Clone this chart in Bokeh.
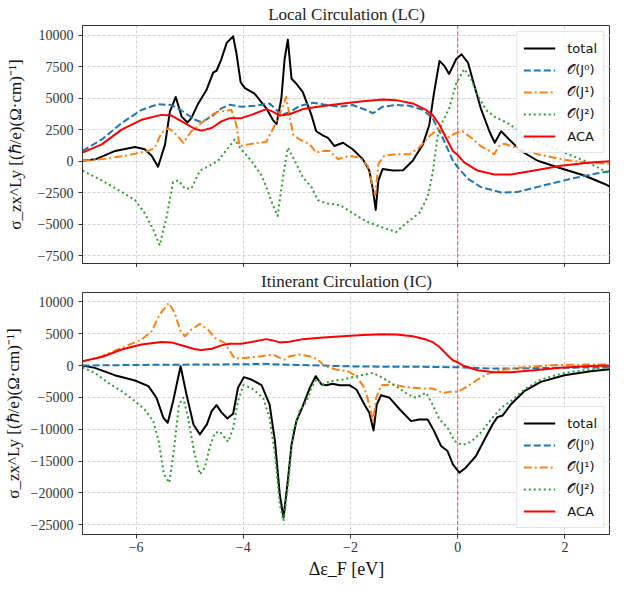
from bokeh.plotting import figure
from bokeh.models import Span, Legend, LegendItem, FixedTicker, Range1d
from bokeh.layouts import column
from bokeh.embed import file_html
from bokeh.resources import INLINE

# ---------------- data: Local Circulation (LC) ----------------
lc_total_x = [-7.0, -6.75, -6.39, -6.02, -5.84, -5.71, -5.59, -5.46, -5.37, -5.26, -5.15, -5.04, -4.97, -4.84,
              -4.69, -4.56, -4.50, -4.41, -4.31, -4.19, -4.13, -4.05, -3.97, -3.79, -3.57, -3.45, -3.38,
              -3.29, -3.23, -3.17, -3.10, -3.01, -2.89, -2.73, -2.64, -2.51, -2.42, -2.30, -2.14, -1.96,
              -1.77, -1.65, -1.58, -1.53, -1.48, -1.40, -1.21, -1.02, -0.84, -0.65, -0.53, -0.44, -0.34,
              -0.25, -0.16, -0.03, 0.07, 0.19, 0.31, 0.43, 0.59, 0.69, 0.81, 0.96, 1.18, 1.49, 1.86,
              2.36, 2.73, 2.97]
lc_total_y = [50, 180, 830, 1140, 960, 440, -420, 1350, 3950, 5110, 3550, 3090, 3430, 4600,
              5640, 7060, 7190, 8100, 9400, 9920, 8620, 6280, 5810, 5380, 4210, 3300, 2960,
              4990, 8100, 9660, 6550, 6160, 5500, 3690, 2390, 2050, 1870, 1220, 1480, 960,
              180, -730, -2290, -3850, -1510, -600, -730, -700, 50, 1350, 2910, 5500, 7970,
              7580, 6940, 8100, 8500, 7840, 6020, 4210, 2390, 1480, 2390, 1740, 830, 50, -470,
              -1120, -1770, -2290]

lc_j0_x = [-7.0, -6.64, -6.27, -5.90, -5.59, -5.34, -5.15, -4.90, -4.78, -4.59, -4.41, -4.25, -4.04,
           -3.79, -3.51, -3.38, -3.29, -3.14, -2.95, -2.70, -2.45, -2.20, -1.96, -1.71, -1.58, -1.40,
           -1.15, -0.90, -0.65, -0.47, -0.28, -0.09, 0.0, 0.19, 0.43, 0.81, 1.12, 1.61, 2.11, 2.61, 2.97]
lc_j0_y = [830, 1740, 3040, 4080, 4540, 4470, 4020, 3300, 3110, 3550, 4210, 4500, 4340,
           4410, 4600, 4080, 3690, 3900, 4400, 4650, 4470, 4340, 4470, 4080, 3820, 4340,
           4470, 4420, 4080, 3430, 1870, 50, -470, -1380, -2030, -2470, -2420, -1900, -1380, -940, -680]

lc_j1_x = [-7.0, -6.64, -6.21, -5.77, -5.65, -5.53, -5.40, -5.28, -5.12, -4.97, -4.78, -4.59, -4.47,
           -4.35, -4.22, -4.13, -4.07, -3.91, -3.57, -3.41, -3.29, -3.20, -3.14, -3.07, -2.95, -2.76,
           -2.64, -2.51, -2.39, -2.23, -2.02, -1.83, -1.68, -1.54, -1.48, -1.37, -1.15, -0.90, -0.72,
           -0.53, -0.34, -0.19, -0.03, 0.09, 0.25, 0.43, 0.59, 0.68, 0.77, 0.87, 1.12, 1.49, 1.92,
           2.36, 2.97]
lc_j1_y = [50, 180, 440, 830, 1090, 2260, 2650, 2260, 1480, 2390, 3040, 3690, 3950,
           4000, 4080, 2910, 1220, 1350, 1560, 2910, 4080, 5110, 3690, 2130, 1740, 1350,
           700, 830, 830, 180, 440, 310, -340, -2680, -210, 440, 570, 570, 1090,
           2000, 2650, 1870, 2260, 2390, 1870, 1220, 830, 570, 1220, 1400, 1040, 570, 180,
           -80, -210]

lc_j2_x = [-7.0, -6.64, -6.27, -6.02, -5.84, -5.68, -5.56, -5.43, -5.31, -5.21, -5.09, -4.97, -4.81,
           -4.63, -4.47, -4.28, -4.16, -4.04, -3.85, -3.66, -3.57, -3.45, -3.36, -3.26, -3.17, -3.07,
           -2.89, -2.73, -2.61, -2.45, -2.20, -1.96, -1.71, -1.46, -1.15, -0.96, -0.72, -0.56, -0.47,
           -0.37, -0.28, -0.16, -0.03, 0.12, 0.25, 0.37, 0.53, 0.68, 0.93, 1.24, 1.61, 1.99, 2.36,
           2.73, 2.97]
lc_j2_y = [-730, -1510, -2420, -3070, -4110, -5410, -6660, -4370, -1640, -1510, -2160, -2160, -730,
           -340, 50, 1090, 1740, 960, 50, -1120, -2030, -3460, -4320, -1250, 1090, 310,
           -1250, -2030, -3070, -3330, -3460, -4110, -4760, -5150, -5610, -4890, -4110, -2810, -990,
           2130, 3170, 4200, 6160, 7330, 6550, 5245, 4080, 3550, 3040, 2130, 1350, 700, 50,
           -730, -1380]

aca_x = [-7.0, -6.64, -6.27, -5.90, -5.53, -5.34, -5.09, -4.90, -4.78, -4.59, -4.41, -4.25, -4.04,
         -3.85, -3.57, -3.45, -3.32, -3.14, -2.89, -2.51, -2.14, -1.77, -1.40, -1.15, -0.84, -0.59,
         -0.47, -0.34, -0.22, -0.09, 0.0, 0.12, 0.37, 0.68, 0.99, 1.43, 1.92, 2.48, 2.97]
aca_y = [700, 1350, 2520, 3300, 3690, 3640, 3040, 2570, 2440, 2650, 3170, 3430, 3430,
         3690, 4150, 3950, 3640, 3740, 4150, 4400, 4600, 4780, 4910, 4860, 4600, 4080,
         3690, 2910, 1870, 830, 500, -80, -730, -1040, -1040, -730, -340, -80, 50]

# ---------------- data: Itinerant Circulation (IC) ----------------
ic_total_x = [-7.0, -6.77, -6.40, -6.02, -5.77, -5.62, -5.49, -5.41, -5.31, -5.17, -5.06, -4.93, -4.81,
              -4.68, -4.59, -4.50, -4.41, -4.30, -4.19, -4.10, -3.99, -3.85, -3.66, -3.51, -3.41, -3.32,
              -3.25, -3.17, -3.10, -3.01, -2.89, -2.76, -2.65, -2.54, -2.45, -2.34, -2.20, -2.02, -1.89,
              -1.74, -1.65, -1.57, -1.51, -1.43, -1.27, -1.08, -0.87, -0.72, -0.56, -0.44, -0.31, -0.19,
              -0.09, 0.03, 0.15, 0.34, 0.50, 0.65, 0.74, 0.84, 0.99, 1.24, 1.55, 1.99, 2.48, 2.97]
ic_total_y = [0, -360, -1510, -2350, -3230, -5060, -8200, -8980, -5590, -100, -4540, -9240, -10810,
              -9240, -7150, -6210, -7310, -8300, -7570, -3500, -1820, -2190, -3080, -6110, -11850, -20220,
              -23870, -18120, -12380, -8720, -6370, -3500, -1670, -2970, -3080, -2870, -3080, -3080, -3760,
              -6110, -7410, -10190, -6110, -4640, -5060, -6900, -8720, -8460, -8460, -10290, -12640, -13420,
              -15510, -16820, -16030, -14200, -11600, -9250, -8090, -7830, -6110, -4020, -2560, -1510, -880, -470]

ic_j0_x = [-7.0, -6.0, -5.0, -4.0, -3.66, -3.0, -1.89, -0.65, 0.0, 0.6, 1.12, 1.74, 2.97]
ic_j0_y = [0, 100, 150, 200, 270, 100, -150, -200, -260, -470, -470, -360, -260]

ic_j1_x = [-7.0, -6.64, -6.27, -5.90, -5.71, -5.56, -5.39, -5.28, -5.17, -5.09, -4.97, -4.81, -4.66,
           -4.53, -4.35, -4.25, -4.16, -3.97, -3.66, -3.45, -3.32, -3.23, -3.14, -2.95, -2.76, -2.61,
           -2.48, -2.27, -2.05, -1.89, -1.74, -1.65, -1.58, -1.52, -1.43, -1.21, -0.96, -0.65, -0.47,
           -0.28, -0.16, 0.0, 0.19, 0.37, 0.56, 0.74, 1.12, 1.74, 2.36, 2.97]
ic_j1_y = [580, 1470, 2770, 4080, 5390, 8000, 9830, 8260, 5390, 4600, 5650, 6540, 5650,
           4340, 3560, 2250, 1100, 1200, 1470, 1730, 1210, 940, 1470, 1730, 1470, 940,
           -100, -620, -880, -1670, -3500, -6110, -8720, -5060, -3080, -2970, -3390, -3600, -3600,
           -4280, -4130, -4130, -3230, -2190, -1300, -780, -360, 50, 150, 150]

ic_j2_x = [-7.0, -6.77, -6.52, -6.27, -6.02, -5.84, -5.68, -5.58, -5.48, -5.38, -5.29, -5.20, -5.12,
           -5.03, -4.92, -4.81, -4.72, -4.63, -4.53, -4.43, -4.37, -4.28, -4.19, -4.10, -4.00, -3.85,
           -3.63, -3.51, -3.41, -3.32, -3.25, -3.17, -3.07, -2.95, -2.82, -2.73, -2.64, -2.51, -2.39,
           -2.14, -1.89, -1.58, -1.40, -1.15, -0.93, -0.78, -0.59, -0.47, -0.34, -0.19, -0.06, 0.09,
           0.25, 0.43, 0.62, 0.81, 0.99, 1.24, 1.55, 1.99, 2.48, 2.97]
ic_j2_y = [-300, -1150, -2710, -4020, -5590, -6900, -8720, -11850, -17080, -18390, -12900, -6110, -5060,
           -8200, -13420, -17080, -16040, -12900, -10550, -10400, -11080, -11960, -9760, -5590, -3080, -3500,
           -5060, -8200, -13950, -21790, -24390, -19160, -10290, -7150, -5590, -3500, -2190, -2970, -2450,
           -2190, -1670, -1150, -1930, -3230, -4540, -5060, -4280, -6110, -8460, -9760, -11850, -12480,
           -11960, -10550, -8460, -6630, -5590, -3760, -2190, -1150, -630, -260]

x_ticks = [-6, -4, -2, 0, 2]
lc_y_ticks = [-7500, -5000, -2500, 0, 2500, 5000, 7500, 10000]
ic_y_ticks = [-25000, -20000, -15000, -10000, -5000, 0, 5000, 10000]
labels = ["total", "𝒪(J⁰)", "𝒪(J¹)", "𝒪(J²)", "ACA"]

SERIF = "Liberation Serif"
YLABEL = "σ_zx^Ly [(ℏ/e)(Ω·cm)⁻¹]"


def style(p, yticks, ylabel_standoff):
    p.title.text_font = SERIF
    p.title.text_font_size = "17px"
    p.title.text_font_style = "normal"
    p.title.align = "center"
    p.title.text_color = "#222222"
    p.title.standoff = 4
    p.outline_line_color = "#333333"
    p.outline_line_width = 1
    p.xaxis.ticker = FixedTicker(ticks=x_ticks)
    p.yaxis.ticker = FixedTicker(ticks=yticks)
    p.xaxis.major_label_overrides = {t: str(t).replace("-", "\u2212") for t in x_ticks}
    p.yaxis.major_label_overrides = {t: str(t).replace("-", "\u2212") for t in yticks}
    for ax in (p.xaxis[0], p.yaxis[0]):
        ax.major_label_text_font = SERIF
        ax.major_label_text_font_size = "14px"
        ax.major_label_text_color = "#333333"
        ax.major_tick_in = 0
        ax.major_tick_out = 4
        ax.minor_tick_line_color = None
        ax.axis_line_color = "#333333"
        ax.major_tick_line_color = "#333333"
        ax.axis_label_text_font = SERIF
        ax.axis_label_text_font_style = "normal"
        ax.axis_label_text_font_size = "17px"
        ax.axis_label_text_color = "#111111"
    p.yaxis.axis_label = YLABEL
    p.yaxis.axis_label_standoff = ylabel_standoff
    p.grid.grid_line_color = "#c8c8c8"
    p.grid.grid_line_dash = "3 2"
    p.grid.grid_line_width = 0.8
    p.add_layout(Span(location=0, dimension="height", line_color="red",
                      line_dash="4 2", line_width=1, line_alpha=0.7))


def draw(p, series, loc):
    colors = ["black", "#1f77b4", "#ff7f0e", "#2ca02c", "red"]
    dashes = ["solid", "7 3", "8 3 2 3", "2 3", "solid"]
    items = []
    for (xs, ys), c, d, lab in zip(series, colors, dashes, labels):
        r = p.line(xs, ys, line_color=c, line_dash=d, line_width=2, line_join="round")
        items.append(LegendItem(label=lab, renderers=[r]))
    leg = Legend(items=items, location=loc)
    leg.label_text_font = "DejaVu Sans"
    leg.label_text_font_size = "13px"
    leg.label_text_color = "#111111"
    leg.glyph_width = 32
    leg.glyph_height = 20
    leg.label_height = 20
    leg.spacing = 2
    leg.padding = 6
    leg.margin = 6
    leg.label_standoff = 12
    leg.border_line_color = "#cccccc"
    leg.background_fill_alpha = 0.85
    p.add_layout(leg)


p1 = figure(width=610, height=267, x_range=Range1d(-7, 2.85), y_range=Range1d(-8100, 10780),
            title="Local Circulation (LC)", output_backend="svg", toolbar_location=None,
            min_border_left=82, min_border_right=0, min_border_top=0, min_border_bottom=0)
style(p1, lc_y_ticks, 10)
# tick marks only on the upper panel's x axis (labels not drawn)
p1.xaxis.major_label_text_color = None
p1.xaxis.major_label_text_font_size = "1px"
p1.xaxis.major_label_standoff = 0
draw(p1, [(lc_total_x, lc_total_y), (lc_j0_x, lc_j0_y), (lc_j1_x, lc_j1_y),
          (lc_j2_x, lc_j2_y), (aca_x, aca_y)], "top_right")

p2 = figure(width=610, height=314, x_range=Range1d(-7, 2.85), y_range=Range1d(-26520, 11470),
            title="Itinerant Circulation (IC)", output_backend="svg", toolbar_location=None,
            min_border_left=82, min_border_right=0, min_border_top=0, min_border_bottom=0)
style(p2, ic_y_ticks, 5)
p2.xaxis.axis_label = "Δε_F [eV]"
p2.xaxis.axis_label_text_font_size = "18px"
p2.xaxis.axis_label_standoff = 4
p2.xaxis.major_label_standoff = 3
draw(p2, [(ic_total_x, ic_total_y), (ic_j0_x, ic_j0_y), (ic_j1_x, ic_j1_y),
          (ic_j2_x, ic_j2_y), (aca_x, aca_y)], "bottom_right")

layout = column(p1, p2, spacing=0)
open("out.html", "w").write(file_html(layout, INLINE))
